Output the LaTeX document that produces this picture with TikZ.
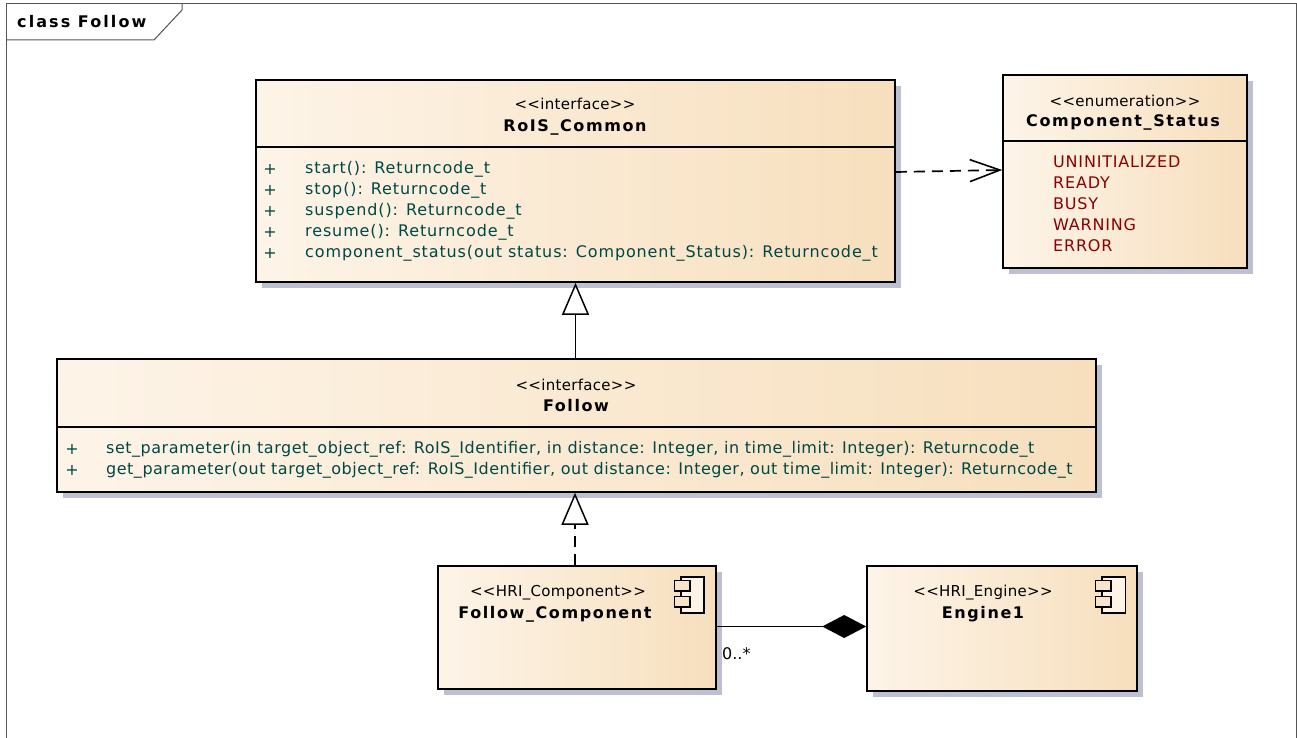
\documentclass[tikz,border=0pt]{standalone}
\usepackage{fontspec}
\setmainfont{DejaVu Sans}
\newfontfamily\titlefont[LetterSpace=10]{DejaVu Sans}
\newfontfamily\frametitlefont[LetterSpace=13]{DejaVu Sans}
\newfontfamily\opsAfont[LetterSpace=5.5]{DejaVu Sans}
\newfontfamily\opsBfont[LetterSpace=3.2]{DejaVu Sans}
\newfontfamily\litfont[LetterSpace=5]{DejaVu Sans}
\newfontfamily\stereofont[LetterSpace=2]{DejaVu Sans}
\usetikzlibrary{arrows.meta,shadows}
\definecolor{boxL}{HTML}{FDF4E8}
\definecolor{boxR}{HTML}{F7DFBD}
\definecolor{shadowc}{HTML}{BCC0D2}
\definecolor{opc}{RGB}{0,72,70}
\definecolor{enumc}{RGB}{140,0,0}
\definecolor{framec}{HTML}{555555}
\definecolor{iconL}{HTML}{FDF3E6}
\definecolor{iconS}{HTML}{F8E4C8}
\begin{document}
\begin{tikzpicture}[x=1pt,y=-1pt,
  box/.style={draw=black, line width=1.6pt, inner sep=0pt, left color=boxL, right color=boxR,
    drop shadow={shadow xshift=6pt, shadow yshift=-6pt, fill=shadowc, opacity=1}},
  divider/.style={line width=1.3pt},
  stereo/.style={inner sep=0pt, font={\stereofont\fontsize{15}{17}\selectfont}},
  title/.style={inner sep=0pt, font={\titlefont\bfseries\fontsize{16}{18}\selectfont}},
  opsA/.style={inner sep=0pt, anchor=west, align=left, text=opc, font={\opsAfont\fontsize{16}{21}\selectfont}},
  opsB/.style={inner sep=0pt, anchor=west, align=left, text=opc, font={\opsBfont\fontsize{16}{21}\selectfont}},
  lits/.style={inner sep=0pt, anchor=west, align=left, text=enumc, font={\litfont\fontsize{16}{21}\selectfont}},
  dashedline/.style={line width=1.7pt, dash pattern=on 11pt off 7pt},
  iconbig/.style={draw=black, line width=1.4pt, fill=iconL},
  iconsmall/.style={draw=black, line width=1.4pt, fill=iconS}]
\useasboundingbox (0,0) rectangle (1297,738);
\fill[white] (0,0) rectangle (1297,738);

% frame
\draw[framec, line width=1pt] (6,738) -- (6,4) -- (1296,4) -- (1296,738);
\draw[framec, line width=1pt] (6,40) -- (154,40) -- (182,10) -- (182,4);
\node[inner sep=0pt, anchor=west, font={\frametitlefont\bfseries\fontsize{16}{18}\selectfont}] (frametitle) at (17,22) {class Follow};

% RoIS_Common
\node[box, minimum width=639pt, minimum height=202pt] (rois) at (575.5,181) {};
\draw[divider] (256,147) -- (895,147);
\node[stereo] (roisst) at (575,104) {<{}<interface>{}>};
\node[title] (roist) at (575,127) {RoIS\_Common};
\node[opsA, anchor=center] (roisplus) at (270,211) {+\\+\\+\\+\\+};
\node[opsA] (roisops) at (305,211) {start(): Returncode\_t\\stop(): Returncode\_t\\suspend(): Returncode\_t\\resume(): Returncode\_t\\component\_status(out status: Component\_Status): Returncode\_t};

% Component_Status
\node[box, minimum width=244pt, minimum height=193pt] (enum) at (1125,171.5) {};
\draw[divider] (1003,141) -- (1247,141);
\node[stereo] (enumst) at (1125,101) {<{}<enumeration>{}>};
\node[title] (enumt) at (1123,122) {Component\_Status};
\node[lits] (enumlits) at (1053,204) {UNINITIALIZED\\READY\\BUSY\\WARNING\\ERROR};

% Follow
\node[box, minimum width=1039pt, minimum height=133pt] (follow) at (576.5,425.5) {};
\draw[divider] (57,427) -- (1096,427);
\node[stereo] (followst) at (576,385) {<{}<interface>{}>};
\node[title] (followt) at (576,406) {Follow};
\node[opsB, anchor=center] (followplus) at (72,459.5) {+\\+};
\node[opsB] (followops) at (106,459.5) {set\_parameter(in target\_object\_ref: RoIS\_Identifier, in distance: Integer, in time\_limit: Integer): Returncode\_t\\get\_parameter(out target\_object\_ref: RoIS\_Identifier, out distance: Integer, out time\_limit: Integer): Returncode\_t};

% Follow_Component
\node[box, minimum width=278pt, minimum height=123pt] (fc) at (577,627.5) {};
\node[stereo] (fcst) at (558,593) {<{}<HRI\_Component>{}>};
\node[title] (fct) at (555,614) {Follow\_Component};
\draw[iconbig] (681,577) rectangle (704,613);
\draw[iconsmall] (674.5,580.5) rectangle (690,591);
\draw[iconsmall] (674.5,596.5) rectangle (690,607);

% Engine1
\node[box, minimum width=270pt, minimum height=125pt] (eng) at (1002,628.5) {};
\node[stereo] (engst) at (983,593) {<{}<HRI\_Engine>{}>};
\node[title] (engt) at (983,614) {Engine1};
\draw[iconbig] (1102,577) rectangle (1125.5,613);
\draw[iconsmall] (1095.5,580.5) rectangle (1111,591);
\draw[iconsmall] (1095.5,596.5) rectangle (1111,607);

% connectors
\draw[line width=1.7pt, -{Triangle[open, length=32pt, width=27pt, line width=1.5pt, fill=white]}]
  (follow.north -| rois.south) -- (rois.south);
\draw[dashedline, -{Triangle[open, length=32pt, width=27pt, line width=1.5pt, fill=white]}]
  ([xshift=-2pt]fc.north) -- ([xshift=-2pt]fc.north |- follow.south);
\draw[dashedline, -{Straight Barb[length=30pt, width=22pt, line width=1.6pt]}]
  ([yshift=9pt]rois.east) -- ([yshift=1.5pt]enum.west);
\draw[line width=1.7pt, -{Diamond[length=44pt, width=23pt]}]
  ([yshift=1pt]fc.east) -- ([yshift=1pt]fc.east -| eng.west);
\node[inner sep=0pt, anchor=west, font={\fontsize{16}{18}\selectfont}] (mult) at (722,654) {0..*};
\end{tikzpicture}
\end{document}
